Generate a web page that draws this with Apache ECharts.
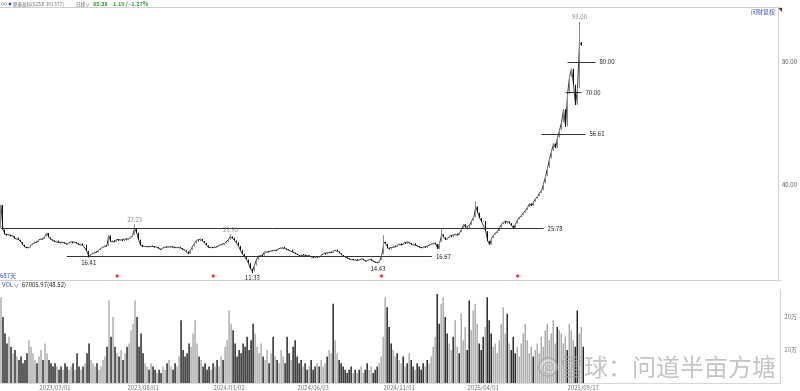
<!DOCTYPE html>
<html><head><meta charset="utf-8">
<script src="https://cdn.jsdelivr.net/npm/echarts@6/dist/echarts.min.js"></script>
<style>html,body{margin:0;padding:0;background:#fff}#c{width:800px;height:391px}</style>
</head><body><div id="c"></div>
<script>
// ---- data (each point ≈ 2.3 trading days) ----
const firstOpen = 26.0;
const closes = [
 33.5,25.5,24.0,23.5,23.8,23.2,23.4,22.6,22.9,22.2,
 21.5,20.6,19.8,19.4,19.6,20.3,21.0,21.6,21.4,22.2,
 22.6,22.4,23.3,24.4,23.0,22.3,22.0,21.6,21.9,21.3,
 21.0,21.4,21.0,20.7,21.2,21.5,21.0,21.4,21.1,20.6,
 21.0,20.4,20.6,18.5,16.8,17.4,17.8,18.4,18.1,18.8,
 19.4,19.8,20.4,20.1,23.6,21.6,22.0,21.5,22.3,21.8,
 22.1,21.7,22.4,22.0,22.5,23.0,23.6,26.0,24.5,22.2,
 20.4,19.8,20.0,20.2,19.9,20.3,20.0,19.6,19.8,19.3,
 19.0,19.6,19.8,19.5,19.9,20.1,19.8,19.4,19.7,19.9,
 19.5,19.0,18.8,18.4,17.6,18.8,20.0,21.0,22.0,21.6,
 22.4,21.8,21.2,20.4,19.7,19.9,19.6,20.0,19.8,20.3,
 20.6,20.4,21.0,21.4,22.2,23.3,22.8,22.0,21.4,20.2,
 18.8,17.6,16.8,15.8,14.6,12.8,11.9,13.8,15.6,16.9,
 17.4,17.0,18.2,18.5,18.2,18.8,18.6,19.0,18.7,19.2,
 19.5,19.9,19.4,19.1,18.8,18.9,18.3,18.0,17.6,17.2,
 17.0,17.5,17.2,16.8,17.1,16.9,16.5,16.2,16.6,16.3,
 16.8,17.4,17.8,17.4,18.0,18.4,18.0,18.7,19.0,18.4,
 17.8,17.2,16.8,16.5,16.1,15.8,15.9,15.6,15.9,15.5,
 15.7,16.0,15.6,15.2,15.5,15.9,15.4,15.0,14.7,14.7,
 15.6,17.5,21.5,20.8,19.4,19.0,19.7,20.3,19.9,20.6,
 21.0,20.5,21.2,20.8,21.5,21.1,20.6,21.0,20.4,20.1,
 19.7,19.4,19.8,19.5,20.2,20.6,20.9,21.3,20.8,19.2,
 21.5,24.0,23.0,22.2,22.8,23.4,23.0,23.8,24.2,23.7,
 24.6,25.8,27.2,26.2,25.6,27.0,28.4,29.5,33.0,31.0,
 29.2,28.0,28.3,25.0,21.8,20.6,22.8,23.8,24.2,25.0,
 26.2,27.3,28.0,27.4,28.2,27.6,26.8,25.9,27.4,28.8,
 29.4,30.2,31.0,31.8,32.8,34.0,33.2,34.5,35.6,36.3,
 37.4,38.2,40.5,42.8,45.6,48.6,51.0,53.5,52.0,55.4,
 57.8,60.5,64.6,59.0,69.5,75.2,77.8,72.6,66.0,71.5,
 86.48,85.38
];
const volumes = [ // 万
 26,20,15,12,14,11,9,10,8,7,
 8,6,7,9,13,11,9,7,6,8,
 10,7,12,9,7,6,5,6,5,4,
 5,4,6,5,4,5,6,4,9,5,
 4,5,6,9,12,7,6,5,6,4,
 5,7,8,11,25,14,20,11,9,8,
 10,7,9,11,12,16,18,25,20,11,
 15,9,6,5,4,6,5,4,3,4,
 3,5,4,6,7,5,4,6,5,8,
 19,10,8,9,12,11,15,19,12,8,
 7,5,6,4,5,4,6,5,7,5,
 8,7,11,13,22,18,16,12,8,10,
 9,12,11,14,10,13,18,15,11,9,
 12,8,7,10,6,9,14,8,7,6,
 10,8,6,14,9,7,11,13,8,6,
 7,5,6,4,5,7,4,5,6,5,
 7,5,6,8,10,9,24,13,9,7,
 6,5,4,3,4,5,3,4,3,4,
 5,3,4,6,4,5,3,4,5,6,
 8,14,26,23,17,12,10,8,9,7,
 6,8,5,6,9,7,5,4,6,5,
 4,6,5,7,6,8,11,14,27,18,
 24,26,20,15,12,10,14,19,11,9,
 21,13,17,10,25,16,22,24,18,12,
 10,14,17,26,19,15,11,12,9,13,
 18,23,15,21,12,10,14,9,11,8,
 12,15,18,13,9,11,8,10,12,9,
 14,11,16,18,13,15,19,12,17,16,
 15,12,14,10,18,16,13,11,22,15,
 17,11
];
const peakLabels = [[67,27.23],[115,23.90],[290,93.00]];
const troughLabels = [[44,16.41],[126,11.33],[189,14.43]];
const extraHighs = [[192,23.7],[221,25.6],[238,34.6]];
const levelLines = [[0,272,25.78],[33,216,16.67],[271,293,56.61],[283,291,70.00],[284,298,80.00]];
const eventIdx = [58,106,190,258];
const tickIdx = [27,71,114,156,199,241,291];
const tickLabels = ['2023/03/01','2023/08/01','2024/01/02','2024/06/03','2024/11/01','2025/04/01','2025/09/17'];
const priceTicks = [40,80];
const volTicks = [10,20];
const totalSlots = 390;

// ---- build ----
const cats = Array.from({length: totalSlots}, (_, i) => String(i));
const hiMap = {}, loMap = {};
peakLabels.concat(extraHighs).forEach(([i, v]) => hiMap[i] = v);
troughLabels.forEach(([i, v]) => loMap[i] = v);
const candles = closes.map((c, i) => {
  const o = i === 0 ? firstOpen : closes[i - 1];
  let lo = Math.min(o, c), hi = Math.max(o, c);
  if (hiMap[i] !== undefined) hi = Math.max(hi, hiMap[i]);
  if (loMap[i] !== undefined) lo = Math.min(lo, loMap[i]);
  return [o, c, lo, hi];
});
const volData = volumes.map((v, i) => ({
  value: v,
  itemStyle: { color: candles[i][1] >= candles[i][0] ? '#a8a8a8' : '#1a1a1a' }
}));
const tickMap = {};
tickIdx.forEach((t, k) => tickMap[t] = tickLabels[k]);

const FONT = '"Noto Sans CJK SC","Noto Sans",sans-serif';
const hiddenX = (gi) => ({
  type: 'category', gridIndex: gi, data: cats, boundaryGap: true,
  axisLine: { show: false }, axisTick: { show: false }, axisLabel: { show: false }, splitLine: { show: false }
});
const txt = (x, y, text, fill, font, extra) => Object.assign({
  type: 'text', x, y,
  style: { text, fill, font: font + ' ' + FONT, verticalAlign: 'middle', textVerticalAlign: 'middle' }
}, extra || {});

const chart = echarts.init(document.getElementById('c'), null, { renderer: 'canvas' });
chart.setOption({
  animation: false,
  backgroundColor: '#fff',
  grid: [
    { left: 0, right: 19, top: 10, height: 270 },
    { left: 0, right: 19, top: 290, height: 93 },
    { left: 0, right: 19, top: 272, height: 8 }
  ],
  xAxis: [
    hiddenX(0),
    {
      type: 'category', gridIndex: 1, data: cats, boundaryGap: true,
      axisLine: { show: true, lineStyle: { color: '#d8d8d8' } },
      axisTick: { show: false },
      axisLabel: {
        show: true, interval: (i) => tickMap[i] !== undefined,
        formatter: (v, i) => tickMap[i] || '', fontSize: 6, color: '#777', margin: 2, fontFamily: FONT
      },
      splitLine: { show: false }
    },
    hiddenX(2)
  ],
  yAxis: [
    {
      type: 'value', gridIndex: 0, position: 'right', min: 9.1, max: 96.9,
      axisLine: { show: true, lineStyle: { color: '#d0d0d0' } },
      axisTick: { show: false }, splitLine: { show: false },
      axisLabel: { customValues: priceTicks, formatter: v => v.toFixed(2), fontSize: 6, color: '#555', margin: 4, fontFamily: FONT }
    },
    {
      type: 'value', gridIndex: 1, position: 'right', min: 0, max: 28.2,
      axisLine: { show: true, lineStyle: { color: '#d0d0d0' } },
      axisTick: { show: false }, splitLine: { show: false },
      axisLabel: { customValues: volTicks, formatter: v => v + '万', fontSize: 6, color: '#777', margin: 4, fontFamily: FONT }
    },
    { type: 'value', gridIndex: 2, min: 0, max: 1, show: false }
  ],
  series: [
    {
      type: 'line', xAxisIndex: 0, yAxisIndex: 0, data: closes, symbol: 'none',
      lineStyle: { color: '#3a3a3a', width: 1 }, silent: true, z: 1
    },
    {
      type: 'candlestick', xAxisIndex: 0, yAxisIndex: 0, data: candles, barWidth: 1, z: 2,
      itemStyle: { color: '#8a8a8a', borderColor: '#8a8a8a', color0: '#111', borderColor0: '#111', borderWidth: 1 },
      markLine: {
        silent: true, symbol: 'none', animation: false,
        lineStyle: { color: '#333', width: 1, type: 'solid' },
        label: { show: true, position: 'end', distance: 4, formatter: p => p.name, fontSize: 6, color: '#222', fontFamily: FONT },
        data: levelLines.map(([a, b, v]) => [
          { coord: [a, v], name: v.toFixed(2) },
          { coord: [b, v], name: v.toFixed(2) }
        ])
      },
      markPoint: {
        silent: true, animation: false, symbol: 'circle', symbolSize: 0,
        data: peakLabels.map(([i, v]) => ({
          coord: [i, v], value: v,
          label: { show: true, position: 'top', distance: 2, formatter: v.toFixed(2), fontSize: 6, color: '#888', fontFamily: FONT }
        })).concat(troughLabels.map(([i, v]) => ({
          coord: [i, v], value: v,
          label: { show: true, position: 'bottom', distance: 2, formatter: v.toFixed(2), fontSize: 6, color: '#222', fontFamily: FONT }
        })))
      }
    },
    {
      type: 'bar', xAxisIndex: 1, yAxisIndex: 1, data: volData, barWidth: 1.4
    },
    {
      type: 'scatter', xAxisIndex: 2, yAxisIndex: 2, symbol: 'diamond', symbolSize: 4,
      itemStyle: { color: '#e00' }, data: eventIdx.map(i => [i, 0.5])
    }
  ],
  graphic: [
    { type: 'line', shape: { x1: 0, y1: 7.5, x2: 781, y2: 7.5 }, style: { stroke: '#d0d0d0', lineWidth: 1 } },
    { type: 'polygon', shape: { points: [[778, 8], [782, 8], [782, 12]] }, style: { fill: '#444' } },
    { type: 'line', shape: { x1: 0, y1: 280.5, x2: 781, y2: 280.5 }, style: { stroke: '#d0d0d0', lineWidth: 1 } },
    txt(1, 4, '∞', '#888', '6px'),
    { type: 'circle', shape: { cx: 10, cy: 4, r: 1.4 }, style: { fill: '#2a4fbf' } },
    txt(13, 4, '鼎泰高科', '#666', '4.5px'),
    txt(31, 4, '(SZSE 301377)', '#777', '5px'),
    txt(76, 4, '日线', '#666', '4.5px'),
    txt(85, 4, '∨', '#666', '5px'),
    txt(93, 4, '85.38', '#2f9a2f', 'bold 5.5px'),
    txt(111, 4, '-1.10 / -1.27%', '#2f9a2f', 'bold 5.5px'),
    txt(751, 12, '问财复权', '#3a55c8', '6px'),
    txt(0, 276, '687天', '#3a55c8', '6px'),
    txt(2, 285, 'VOL', '#3a55c8', '6px'),
    txt(14, 285, '∨', '#3a55c8', '5px'),
    txt(22, 285, '67005.97(48.52)', '#222', '6px'),
    { type: 'circle', z: 100, shape: { cx: 548, cy: 367, r: 9 }, style: { fill: 'rgba(255,255,255,0.35)', stroke: 'rgba(160,160,160,0.7)', lineWidth: 2 } },
    { type: 'text', z: 100, x: 548, y: 367, style: { text: '@', fill: 'rgba(160,160,160,0.7)', font: 'bold 13px ' + FONT, align: 'center', verticalAlign: 'middle', textAlign: 'center', textVerticalAlign: 'middle' } },
    { type: 'text', z: 100, x: 560, y: 367, style: { text: '雪球：问道半亩方塘', fill: 'rgba(165,165,165,0.65)', font: '24px ' + FONT, verticalAlign: 'middle', textVerticalAlign: 'middle' } }
  ]
});
</script>
</body></html>
